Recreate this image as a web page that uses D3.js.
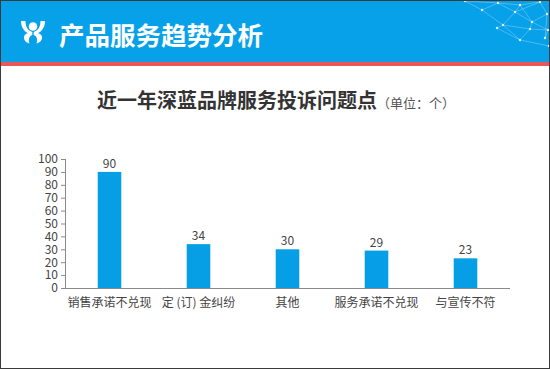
<!DOCTYPE html>
<html>
<head>
<meta charset="utf-8">
<script src="https://cdn.jsdelivr.net/npm/d3@7"></script>
<style>
  html, body { margin: 0; padding: 0; background: #fff; }
  svg { display: block; font-family: "Noto Sans CJK SC", "Noto Sans", sans-serif; }
</style>
</head>
<body>
<div id="chart"></div>
<script>
// data
var categories = ['销售承诺不兑现', '定 (订) 金纠纷', '其他', '服务承诺不兑现', '与宣传不符'];
var values = [90, 34, 30, 29, 23];
var yTicks = [0, 10, 20, 30, 40, 50, 60, 70, 80, 90, 100];

var W = 550, H = 369;
var svg = d3.select('#chart').append('svg')
    .attr('width', W)
    .attr('height', H);

// header band
svg.append('rect')
    .attr('x', 0).attr('y', 0)
    .attr('width', W).attr('height', 62)
    .attr('fill', '#07a1e9');
svg.append('rect')
    .attr('x', 0).attr('y', 62)
    .attr('width', W).attr('height', 4)
    .attr('fill', '#ea5656');

// network decoration in the top right corner
var deco = svg.append('g').attr('class', 'deco')
    .attr('stroke', '#fff').attr('fill', '#fff');
var nodes = [[465, 1], [498, 3], [520, 5], [540, 2], [547, 14], [532, 22], [515, 12],
             [482, 10], [503, 25], [548, 30], [530, 29], [497, 28], [520, 40], [549, 46], [545, 38]];
var links = [[0, 7], [0, 1], [1, 7], [1, 6], [1, 2], [2, 6], [2, 3], [3, 4], [4, 5], [5, 6],
             [6, 8], [7, 8], [5, 9], [5, 10], [8, 10], [8, 11], [10, 9], [10, 12], [12, 13],
             [9, 14], [4, 14], [11, 12], [8, 12], [2, 5], [3, 6]];
deco.selectAll('line').data(links).enter().append('line')
    .attr('x1', d => nodes[d[0]][0]).attr('y1', d => nodes[d[0]][1])
    .attr('x2', d => nodes[d[1]][0]).attr('y2', d => nodes[d[1]][1])
    .attr('stroke-width', 0.6)
    .attr('stroke-opacity', 0.45);
deco.selectAll('circle').data(nodes).enter().append('circle')
    .attr('cx', d => d[0]).attr('cy', d => d[1])
    .attr('r', 1.2)
    .attr('fill-opacity', 0.8)
    .attr('stroke', 'none');

// logo: head between two raised arms, mirrored halves
var logo = svg.append('g')
    .attr('transform', 'translate(21,21)')
    .attr('fill', '#fff');
var half = 'M0,0 L4.5,0 C4.5,6 7,9.5 11.3,11 L11.3,14 C8.5,15 7,18 8.5,22.5 ' +
           'C4.5,21.5 2.5,18.5 3,15.5 C3.5,13.5 5.5,12.5 7,12.2 C2.5,10 0,5.5 0,0 Z';
logo.append('path').attr('d', half);
logo.append('path').attr('d', half).attr('transform', 'translate(24,0) scale(-1,1)');
logo.append('circle').attr('cx', 12).attr('cy', 5.5).attr('r', 4.3);

svg.append('text')
    .attr('x', 59).attr('y', 45)
    .attr('fill', '#fff')
    .style('font-size', '25.5px')
    .style('font-weight', 'bold')
    .text('产品服务趋势分析');

// chart title
var title = svg.append('text')
    .attr('x', W / 2 + 1).attr('y', 108)
    .attr('text-anchor', 'middle')
    .attr('fill', '#333');
title.append('tspan')
    .style('font-size', '20px')
    .style('font-weight', 'bold')
    .text('近一年深蓝品牌服务投诉问题点');
title.append('tspan')
    .style('font-size', '13px')
    .attr('fill', '#555')
    .text('（单位：个）');

// chart
var margin = {top: 159, left: 65};
var width = 445, height = 129;
var g = svg.append('g')
    .attr('transform', 'translate(' + margin.left + ',' + margin.top + ')');

var x = d3.scaleBand()
    .domain(categories)
    .range([0, width])
    .paddingInner(0.735)
    .paddingOuter(0.3675);

var y = d3.scaleLinear()
    .domain([0, 100])
    .range([height, 0]);

var yAxis = g.append('g')
    .attr('class', 'axis-y')
    .call(d3.axisLeft(y).tickValues(yTicks).tickSize(4).tickPadding(3));
var xAxis = g.append('g')
    .attr('class', 'axis-x')
    .attr('transform', 'translate(0,' + height + ')')
    .call(d3.axisBottom(x).tickSize(0).tickPadding(10));

svg.selectAll('.domain').attr('stroke', '#8a8a8a');
svg.selectAll('.tick line').attr('stroke', '#8a8a8a');
svg.selectAll('.axis-x path').attr('d', 'M0,0.5H' + width);
svg.selectAll('.axis-y path').attr('d', 'M0.5,0V' + height);
svg.selectAll('.tick text')
    .attr('fill', '#444')
    .style('font-size', '12px')
    .style('font-family', '"Noto Sans CJK SC", "Noto Sans", sans-serif');

g.selectAll('.bar')
    .data(values)
    .enter().append('rect')
    .attr('class', 'bar')
    .attr('x', (d, i) => x(categories[i]))
    .attr('y', d => y(d))
    .attr('width', x.bandwidth())
    .attr('height', d => height - y(d))
    .attr('fill', '#069fe6');

g.selectAll('.value')
    .data(values)
    .enter().append('text')
    .attr('class', 'value')
    .attr('x', (d, i) => x(categories[i]) + x.bandwidth() / 2)
    .attr('y', d => y(d) - 4)
    .attr('text-anchor', 'middle')
    .attr('fill', '#444')
    .style('font-size', '12px')
    .text(d => d);

// outer border
svg.append('rect')
    .attr('x', 0.5).attr('y', 0.5)
    .attr('width', W - 1).attr('height', H - 1)
    .attr('fill', 'none')
    .attr('stroke', '#3a3a3a');
</script>
</body>
</html>
